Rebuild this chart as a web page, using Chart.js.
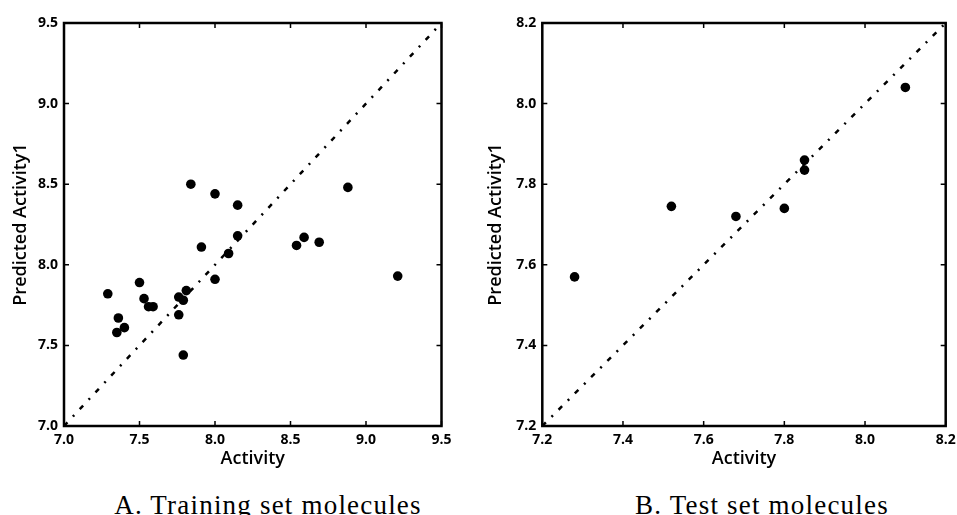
<!DOCTYPE html>
<html>
<head>
<meta charset="utf-8">
<script src="https://cdn.jsdelivr.net/npm/chart.js@4/dist/chart.umd.min.js"></script>
<style>
  html, body { margin: 0; padding: 0; background: #fff; overflow: hidden; }
  #wrap { position: relative; width: 957px; height: 515px; background: #fff; overflow: hidden; }
  canvas { position: absolute; top: 0; }
  .cap { position: absolute; width: 400px; text-align: center; font-family: "Liberation Serif", "Times New Roman", serif;
         font-size: 27px; line-height: 27px; letter-spacing: 1.2px; color: #000; white-space: nowrap; top: 492px; }
</style>
</head>
<body>
<div id="wrap">
  <canvas id="cA" width="478" height="475" style="left:0px"></canvas>
  <canvas id="cB" width="500" height="475" style="left:478px"></canvas>
  <div class="cap" style="left:68px">A. Training set molecules</div>
  <div class="cap" style="left:562px">B. Test set molecules</div>
</div>
<script>
// ---- data ----
const trainActivity = [7.29, 7.36, 7.35, 7.40, 7.50, 7.53, 7.56, 7.59, 7.76, 7.76, 7.79, 7.81, 7.79, 7.84, 7.91, 8.00, 8.00, 8.09, 8.15, 8.15, 8.54, 8.59, 8.69, 8.88, 9.21];
const trainPredicted = [7.82, 7.67, 7.58, 7.61, 7.89, 7.79, 7.74, 7.74, 7.80, 7.69, 7.78, 7.84, 7.44, 8.50, 8.11, 8.44, 7.91, 8.07, 8.37, 8.18, 8.12, 8.17, 8.14, 8.48, 7.93];
const testActivity = [7.28, 7.52, 7.68, 7.80, 7.85, 7.85, 8.10];
const testPredicted = [7.57, 7.745, 7.72, 7.74, 7.86, 7.835, 8.04];
const trainTicks = [7.0, 7.5, 8.0, 8.5, 9.0, 9.5];
const testTicks = [7.2, 7.4, 7.6, 7.8, 8.0, 8.2];
const trainDiagonal = [7.0, 9.5];
const testDiagonal = [7.2, 8.2];
const xTitle = 'Activity';
const yTitle = 'Predicted Activity1';

const tickFont = { family: '"Open Sans", "DejaVu Sans", sans-serif', size: 14, weight: 'bold' };
const titleFont = { family: '"Open Sans", "DejaVu Sans", sans-serif', size: 18, weight: '600' };

const framePlugin = {
  id: 'frame',
  afterDraw(chart) {
    const { ctx, chartArea: a, scales: { x, y } } = chart;
    const L = 5;
    ctx.save();
    ctx.strokeStyle = '#000';
    ctx.lineWidth = 1.5;
    ctx.beginPath();
    x.ticks.forEach(t => {
      const px = x.getPixelForValue(t.value);
      ctx.moveTo(px, a.bottom); ctx.lineTo(px, a.bottom - L);
      ctx.moveTo(px, a.top); ctx.lineTo(px, a.top + L);
    });
    y.ticks.forEach(t => {
      const py = y.getPixelForValue(t.value);
      ctx.moveTo(a.left, py); ctx.lineTo(a.left + L, py);
      ctx.moveTo(a.right, py); ctx.lineTo(a.right - L, py);
    });
    ctx.stroke();
    ctx.lineWidth = 2.5;
    ctx.strokeRect(a.left, a.top, a.right - a.left, a.bottom - a.top);
    ctx.restore();
  }
};

function makeChart(id, xs, ys, ticks, diag, pad, yAxisWidth, yTitlePad) {
  const pts = xs.map((v, i) => ({ x: v, y: ys[i] }));
  const line = diag.map(v => ({ x: v, y: v }));
  return new Chart(document.getElementById(id), {
    type: 'scatter',
    data: {
      datasets: [
        { data: pts, backgroundColor: '#000', borderColor: '#000', pointRadius: 4.8, pointHoverRadius: 4.8, borderWidth: 0 },
        { type: 'line', data: line, borderColor: '#000', borderWidth: 2.5, borderDash: [5, 8, 2, 8], pointRadius: 0, fill: false, showLine: true }
      ]
    },
    options: {
      responsive: false,
      animation: false,
      events: [],
      layout: { padding: pad },
      plugins: { legend: { display: false }, tooltip: { enabled: false } },
      scales: {
        x: {
          type: 'linear', position: 'bottom', min: ticks[0], max: ticks[ticks.length - 1],
          afterBuildTicks: s => { s.ticks = ticks.map(v => ({ value: v })); },
          afterFit: s => { s.height = 49; },
          grid: { display: false, drawTicks: false },
          border: { display: false },
          ticks: { color: '#000', font: tickFont, padding: 6, maxRotation: 0, callback: v => Number(v).toFixed(1) },
          title: { display: true, text: xTitle, color: '#000', font: titleFont, padding: { top: 0, bottom: 5 } }
        },
        y: {
          type: 'linear', position: 'left', min: ticks[0], max: ticks[ticks.length - 1],
          afterBuildTicks: s => { s.ticks = ticks.map(v => ({ value: v })); },
          afterFit: s => { s.width = yAxisWidth; },
          grid: { display: false, drawTicks: false },
          border: { display: false },
          ticks: { color: '#000', font: tickFont, padding: 6, callback: v => Number(v).toFixed(1) },
          title: { display: true, text: yTitle, color: '#000', font: titleFont, padding: { top: yTitlePad, bottom: 0 } }
        }
      }
    },
    plugins: [framePlugin]
  });
}

makeChart('cA', trainActivity, trainPredicted, trainTicks, trainDiagonal, { left: 0, right: 36.5, top: 23, bottom: 0 }, 64, 10);
makeChart('cB', testActivity, testPredicted, testTicks, testDiagonal, { left: 0, right: 32.3, top: 23, bottom: 0 }, 64.3, 7);
</script>
</body>
</html>
